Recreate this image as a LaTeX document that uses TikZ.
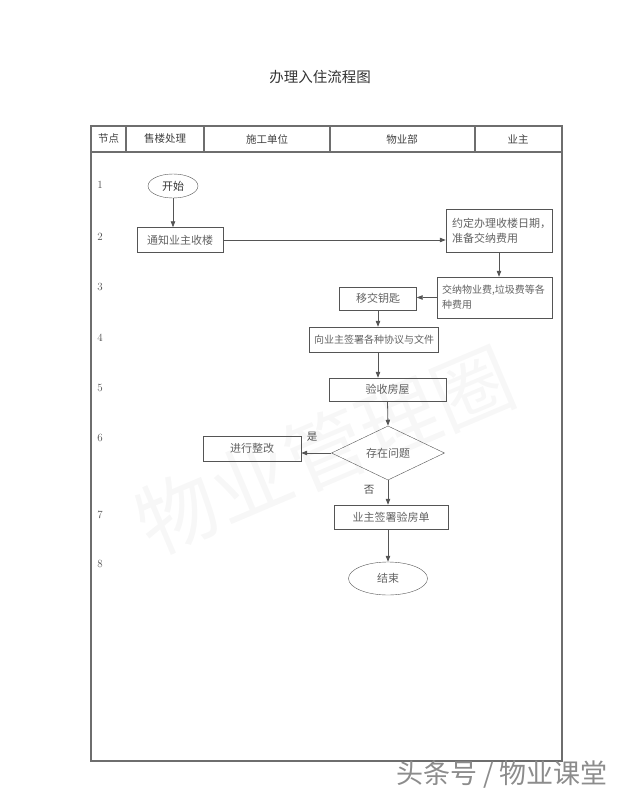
\documentclass[tikz,border=0pt]{standalone}
\usepackage{fontspec}
\newfontfamily\cjk{Noto Sans CJK SC}
\usetikzlibrary{positioning,shapes.geometric,arrows.meta}
\definecolor{linegray}{HTML}{555555}
\definecolor{framegray}{HTML}{6E6E6E}
\definecolor{textgray}{HTML}{626262}
\tikzset{
  stepbox/.style={draw=linegray, rectangle, inner sep=0pt, text=textgray,
    font=\cjk\fontsize{11}{15}\selectfont},
  endpoint/.style={draw=linegray, ellipse, inner sep=0pt, text=black!80,
    font=\cjk\fontsize{11}{13}\selectfont},
  decision/.style={draw=linegray, diamond, inner sep=0pt, text=textgray,
    font=\cjk\fontsize{11}{13}\selectfont},
  flow/.style={draw=linegray, line width=0.8pt, -{Triangle[length=6pt,width=4.5pt]}},
  headcell/.style={font=\cjk\fontsize{10.5}{13}\selectfont, text=black!75},
  rowno/.style={font=\fontsize{11}{13}\selectfont, text=black!70},
  branch/.style={font=\cjk\fontsize{10.5}{13}\selectfont, text=black!70}
}
\begin{document}
\begin{tikzpicture}[x=1pt,y=-1pt]
  \useasboundingbox (0,0) rectangle (640,800);
  \node[rotate=23, text=black!3, font=\cjk\fontsize{80}{88}\selectfont] (wmark) at (325,450) {物业管理圈};

  \node[font=\cjk\fontsize{14.5}{16}\selectfont, text=black!80] (title) at (320,77) {办理入住流程图};

  \draw[framegray, line width=1.1pt] (91,126) rectangle (562,761);
  \draw[framegray, line width=1.1pt] (91,152) -- (562,152);
  \foreach \x in {126,204,330,475}
    \draw[framegray, line width=1.1pt] (\x,126) -- (\x,152);
  \node[headcell] (hdstep) at (108.5,139) {节点};
  \node[headcell] (hdsales) at (165,139) {售楼处理};
  \node[headcell] (hdbuild) at (267,139) {施工单位};
  \node[headcell] (hdprop) at (402,139) {物业部};
  \node[headcell] (hdowner) at (518,139) {业主};

  \foreach \n/\y in {1/185,2/237,3/287,4/338,5/388,6/438,7/515,8/564}
    \node[rowno] (row\n) at (100,\y) {\n};

  \node[endpoint, minimum width=50, minimum height=24] (start) at (173,186) {开始};
  \node[stepbox, minimum width=86, minimum height=25] (notify) at (180,240) {通知业主收楼};
  \node[stepbox, minimum width=106, minimum height=43, align=left, text width=94] (agree) at (499,231)
    {约定办理收楼日期，\\准备交纳费用};
  \node[stepbox, minimum width=115, minimum height=41, align=left, text width=105,
    font=\cjk\fontsize{10}{15}\selectfont] (pay) at (494.5,297.5)
    {交纳物业费,垃圾费等各\\种费用};
  \node[stepbox, minimum width=77, minimum height=23] (key) at (378,298.5) {移交钥匙};
  \node[stepbox, minimum width=129, minimum height=25, font=\cjk\fontsize{10}{13}\selectfont] (sign) at (374,339.5)
    {向业主签署各种协议与文件};
  \node[stepbox, minimum width=117, minimum height=23] (check) at (387.5,389.5) {验收房屋};
  \node[decision, minimum width=113, minimum height=50] (issue) at (388,453) {存在问题};
  \node[stepbox, minimum width=98, minimum height=25] (fix) at (252,448.5) {进行整改};
  \node[stepbox, minimum width=114, minimum height=24] (receipt) at (391,517) {业主签署验房单};
  \node[endpoint, minimum width=79, minimum height=33, text=textgray] (finish) at (388,578.5) {结束};

  \node[branch] (yes) at (312,437) {是};
  \node[branch] (no) at (369,490) {否};

  \draw[flow] (start.south) -- (start.south |- notify.north);
  \draw[flow] (notify.east) -- (notify.east -| agree.west);
  \draw[flow] (agree.south) -- (agree.south |- pay.north);
  \draw[flow] (pay.west) -- (pay.west -| key.east);
  \draw[flow] (key.south) -- (key.south |- sign.north);
  \draw[flow] (key.south |- sign.south) -- (key.south |- check.north);
  \draw[flow] (check.south) -- (issue.north);
  \draw[flow] (issue.west) -- (issue.west -| fix.east);
  \draw[flow] (issue.south) -- (issue.south |- receipt.north);
  \draw[flow] (finish.north |- receipt.south) -- (finish.north);

  \node[font=\cjk\fontsize{27}{30}\selectfont, text=black!45] (credit) at (502,775) {头条号 / 物业课堂};
\end{tikzpicture}
\end{document}
